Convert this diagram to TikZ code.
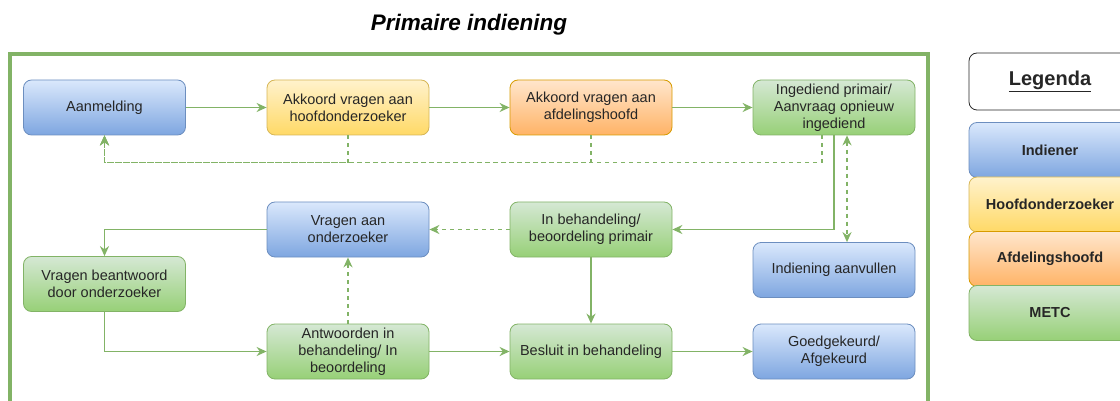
\documentclass[tikz,border=0pt]{standalone}
\usepackage{fontspec}
\setmainfont{Liberation Sans}
\usepackage{xcolor}
\usetikzlibrary{arrows.meta}

\definecolor{lijngroen}{HTML}{82B366}
\definecolor{tekstgrijs}{HTML}{262626}
\definecolor{blauwboven}{HTML}{DAE8FC}
\definecolor{blauwonder}{HTML}{7EA6E0}
\definecolor{blauwrand}{HTML}{6C8EBF}
\definecolor{geelboven}{HTML}{FFF2CC}
\definecolor{geelonder}{HTML}{FFD966}
\definecolor{geelrand}{HTML}{D6B656}
\definecolor{oranjeboven}{HTML}{FFE6CC}
\definecolor{oranjeonder}{HTML}{FFB366}
\definecolor{oranjerand}{HTML}{D79B00}
\definecolor{groenboven}{HTML}{D5E8D4}
\definecolor{groenonder}{HTML}{97D077}

\tikzset{
    blok/.style={rectangle, rounded corners=8pt, minimum width=162pt, minimum height=55pt,
        align=center, text=tekstgrijs, line width=0.8pt, font=\fontsize{14.5}{17}\selectfont},
    indiener/.style={blok, draw=blauwrand, top color=blauwboven, bottom color=blauwonder},
    hoofd/.style={blok, draw=geelrand, top color=geelboven, bottom color=geelonder},
    afdeling/.style={blok, draw=oranjerand, top color=oranjeboven, bottom color=oranjeonder},
    metc/.style={blok, draw=lijngroen, top color=groenboven, bottom color=groenonder},
    legenda/.style={font=\fontsize{14.5}{17}\selectfont\bfseries},
    pijl/.style={draw=lijngroen, line width=1.6pt, -{Stealth[length=10pt, width=9pt]}},
    terug/.style={pijl, dash pattern=on 4pt off 4pt}
}

\begin{document}
\begin{tikzpicture}[x=1pt, y=-1pt]
        \useasboundingbox (0,0) rectangle (1120,401);
        \clip (0,0) rectangle (1120,401);

        \node[font=\fontsize{22.5}{26}\selectfont\bfseries\itshape, text=black] (titel) at (469,25) {Primaire indiening};
        \draw[lijngroen, line width=4.5pt] (10,54) rectangle (928,440);

        \node[indiener] (aanmelding) at (104.5,107.5) {Aanmelding};
        \node[hoofd] (akkhoofd) at (348,107.5) {Akkoord vragen aan\\hoofdonderzoeker};
        \node[afdeling] (akkafd) at (591,107.5) {Akkoord vragen aan\\afdelingshoofd};
        \node[metc] (ingediend) at (834,107.5) {Ingediend primair/\\Aanvraag opnieuw\\ingediend};

        \node[indiener] (vragen) at (348,229.5) {Vragen aan\\onderzoeker};
        \node[metc] (behandeling) at (591,229.5) {In behandeling/\\beoordeling primair};
        \node[indiener] (aanvullen) at (834,270) {Indiening aanvullen};
        \node[metc] (beantwoord) at (104.5,284) {Vragen beantwoord\\door onderzoeker};

        \node[metc] (antwoorden) at (348,351.5) {Antwoorden in\\behandeling/ In\\beoordeling};
        \node[metc] (besluit) at (591,351.5) {Besluit in behandeling};
        \node[indiener] (goedgekeurd) at (834,351.5) {Goedgekeurd/\\Afgekeurd};

        % legenda
        \node[blok, draw=tekstgrijs, fill=white, minimum height=57pt, font=\fontsize{20}{24}\selectfont\bfseries] (legenda) at (1050,81.5) {\underline{Legenda}};
        \node[indiener, legenda] (lindiener) at (1050,150) {Indiener};
        \node[hoofd, legenda] (lhoofd) at (1050,204.5) {Hoofdonderzoeker};
        \node[afdeling, legenda] (lafdeling) at (1050,259) {Afdelingshoofd};
        \node[metc, legenda] (lmetc) at (1050,313) {METC};

        \draw[pijl] (aanmelding) to (akkhoofd);
        \draw[pijl] (akkhoofd) to (akkafd);
        \draw[pijl] (akkafd) to (ingediend);
        \draw[terug] (akkhoofd.south) -- ++(0,27) -| (aanmelding.south);
        \draw[terug] (akkafd.south) -- ++(0,27) -| (aanmelding.south);
        \draw[terug] ([xshift=-12pt]ingediend.south) -- ++(0,27) -| (aanmelding.south);
        \draw[pijl] (ingediend.south) |- (behandeling.east);
        \draw[terug, {Stealth[length=10pt, width=9pt]}-{Stealth[length=10pt, width=9pt]}] ([xshift=13pt]ingediend.south) -- ([xshift=13pt]aanvullen.north);
        \draw[terug] (behandeling) to (vragen);
        \draw[pijl] (vragen.west) -| (beantwoord.north);
        \draw[pijl] (beantwoord.south) |- (antwoorden.west);
        \draw[terug] (antwoorden) to (vragen);
        \draw[pijl] (antwoorden) to (besluit);
        \draw[pijl] (behandeling) to (besluit);
        \draw[pijl] (besluit) to (goedgekeurd);
\end{tikzpicture}
\end{document}
